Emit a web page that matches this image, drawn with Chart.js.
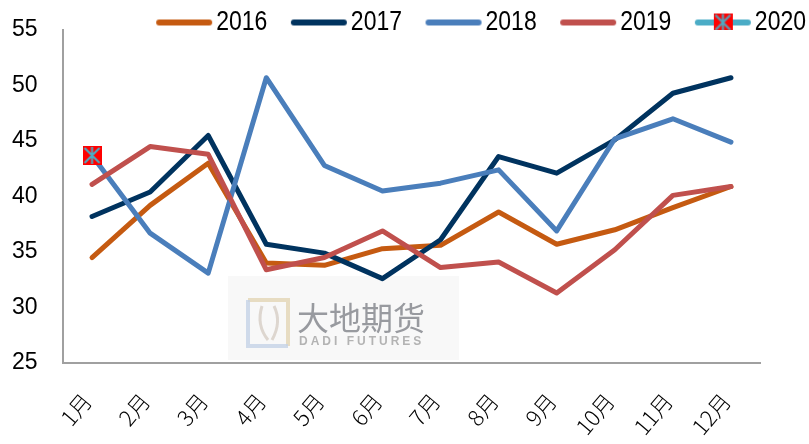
<!DOCTYPE html>
<html>
<head>
<meta charset="utf-8">
<script src="https://cdn.jsdelivr.net/npm/chart.js@4"></script>
<style>
html,body{margin:0;padding:0;background:#fff;}
#wrap{width:809px;height:444px;position:relative;}
</style>
</head>
<body>
<div id="wrap"><canvas id="c" width="809" height="444"></canvas></div>
<script>
// ---- data ----
const months = ['1月','2月','3月','4月','5月','6月','7月','8月','9月','10月','11月','12月'];
const s2016 = [34.5, 39.2, 43.0, 34.0, 33.8, 35.3, 35.6, 38.6, 35.7, 37.0, 39.0, 40.9];
const s2017 = [38.2, 40.4, 45.5, 35.7, 34.9, 32.6, 36.1, 43.6, 42.1, 45.1, 49.3, 50.7];
const s2018 = [43.7, 36.7, 33.1, 50.7, 42.8, 40.5, 41.2, 42.4, 36.9, 45.2, 47.0, 44.9];
const s2019 = [41.1, 44.5, 43.8, 33.4, 34.5, 36.9, 33.6, 34.1, 31.3, 35.2, 40.1, 40.9];
const s2020 = [43.7, null, null, null, null, null, null, null, null, null, null, null];
const seriesNames = ['2016','2017','2018','2019','2020'];
const yTicks = [25, 30, 35, 40, 45, 50, 55];

const colors = ['#C55A11', '#00335F', '#4A7EBB', '#C0504D', '#4BACC6'];

function makeMarker(size) {
  const c = document.createElement('canvas');
  c.width = size; c.height = size;
  const g = c.getContext('2d');
  g.fillStyle = '#FF0000';
  g.fillRect(0, 0, size, size);
  g.strokeStyle = '#4BACC6';
  g.lineWidth = 2;
  g.beginPath();
  g.moveTo(2, 2); g.lineTo(size - 2, size - 2);
  g.moveTo(size - 2, 2); g.lineTo(2, size - 2);
  g.moveTo(size / 2, 1); g.lineTo(size / 2, size - 1);
  g.stroke();
  return c;
}
const marker = makeMarker(19);

const LEG_F = 23, LEG_W = 69, LEG_SY = 1.22;
function legendIcon(color, withMarker) {
  const c = document.createElement('canvas');
  c.width = 100; c.height = 22;
  const g = c.getContext('2d');
  g.strokeStyle = color;
  g.lineWidth = 6;
  g.lineCap = 'round';
  g.beginPath();
  g.moveTo(39, 11); g.lineTo(89, 11);
  g.stroke();
  if (withMarker) {
    g.drawImage(marker, 64 - 9.5, 11 - 9.5, 19, 19);
  }
  return c;
}
const legendIcons = colors.map((col, i) => legendIcon(col, i === 4));

// legend: fixed height in layout, text slightly stretched vertically
const legendTweak = {
  id: 'legendTweak',
  beforeLayout(chart) {
    const lg = chart.legend;
    if (!lg || lg._tweaked) return;
    lg._tweaked = true;
    const proto = Object.getPrototypeOf(lg);
    lg.fit = function () { proto.fit.call(this); this.height = 22; };
    lg.draw = function () {
      const ctx = this.ctx;
      const of = ctx.fillText;
      ctx.fillText = function (t, x, y, mw) {
        ctx.save();
        ctx.translate(x, y);
        ctx.scale(1, LEG_SY);
        of.call(ctx, t, 0, 0);
        ctx.restore();
      };
      try { proto.draw.call(this); } finally { ctx.fillText = of; }
    };
  }
};

const watermark = {
  id: 'watermark',
  beforeDatasetsDraw(chart) {
    const ctx = chart.ctx;
    ctx.save();
    ctx.fillStyle = 'rgba(246,246,246,0.8)';
    ctx.fillRect(228, 276, 231, 84);
    ctx.lineWidth = 4;
    ctx.strokeStyle = 'rgba(226,212,180,0.8)';
    ctx.beginPath();
    ctx.moveTo(248, 300); ctx.lineTo(288, 300); ctx.lineTo(288, 346);
    ctx.stroke();
    ctx.strokeStyle = 'rgba(196,210,230,0.8)';
    ctx.beginPath();
    ctx.moveTo(248, 300); ctx.lineTo(248, 346); ctx.lineTo(288, 346);
    ctx.stroke();
    ctx.strokeStyle = 'rgba(210,200,190,0.7)';
    ctx.lineWidth = 3;
    ctx.beginPath();
    ctx.moveTo(262, 306); ctx.quadraticCurveTo(256, 325, 268, 340);
    ctx.moveTo(274, 306); ctx.quadraticCurveTo(282, 322, 272, 340);
    ctx.stroke();
    ctx.fillStyle = 'rgba(128,130,136,0.8)';
    ctx.font = '32px "Noto Sans CJK SC"';
    ctx.textBaseline = 'middle';
    ctx.textAlign = 'left';
    ctx.fillText('大地期货', 297, 318);
    ctx.fillStyle = 'rgba(150,150,150,0.7)';
    ctx.font = 'bold 12px "Liberation Sans"';
    try { ctx.letterSpacing = '3px'; } catch (e) {}
    ctx.fillText('DADI FUTURES', 299, 342);
    ctx.restore();
  }
};

const data = [s2016, s2017, s2018, s2019, s2020];
const datasets = data.map((d, i) => ({
  label: seriesNames[i],
  data: d,
  borderColor: colors[i],
  backgroundColor: colors[i],
  borderWidth: 5,
  borderJoinStyle: 'round',
  borderCapStyle: 'round',
  pointRadius: i === 4 ? 9 : 0,
  pointHoverRadius: i === 4 ? 9 : 0,
  pointStyle: i === 4 ? marker : 'circle',
  showLine: i !== 4,
  fill: false,
  tension: 0,
  order: 5 - i
}));

new Chart(document.getElementById('c'), {
  type: 'line',
  data: { labels: months, datasets },
  options: {
    responsive: false,
    animation: false,
    layout: { padding: { top: 8, left: 12, right: 0, bottom: 0 } },
    plugins: {
      tooltip: { enabled: false },
      legend: {
        position: 'top',
        align: 'end',
        labels: {
          usePointStyle: true,
          pointStyleWidth: LEG_W,
          boxHeight: 22,
          padding: 3,
          color: '#000',
          font: { family: '"Liberation Sans"', size: LEG_F },
          sort: (a, b) => a.datasetIndex - b.datasetIndex,
          generateLabels(chart) {
            const items = Chart.defaults.plugins.legend.labels.generateLabels(chart);
            items.forEach(it => { it.pointStyle = legendIcons[it.datasetIndex]; });
            return items;
          }
        }
      }
    },
    scales: {
      x: {
        type: 'category',
        offset: true,
        grid: { display: false, drawTicks: false },
        border: { display: true, color: '#A0A0A0', width: 2 },
        ticks: {
          autoSkip: false,
          minRotation: 50,
          maxRotation: 50,
          padding: 25,
          labelOffset: -5,
          color: '#000',
          font: { family: '"Noto Sans CJK SC"', size: 22, weight: '300' }
        },
        afterFit(s) { s.height = 81; }
      },
      y: {
        type: 'linear',
        min: 25,
        max: 55,
        afterBuildTicks(s) { s.ticks = yTicks.map(v => ({ value: v })); },
        grid: { display: false, drawTicks: false },
        border: { display: true, color: '#A0A0A0', width: 2 },
        ticks: {
          padding: 0,
          crossAlign: 'far',
          color: '#000',
          font: { family: '"Liberation Sans"', size: 23 }
        },
        afterFit(s) { s.width = 51; }
      },
      yR: {
        type: 'linear',
        position: 'right',
        min: 0, max: 1,
        grid: { display: false, drawTicks: false },
        border: { display: false },
        ticks: { display: false },
        afterFit(s) { s.width = 49; }
      }
    }
  },
  plugins: [legendTweak, watermark]
});
</script>
</body>
</html>
